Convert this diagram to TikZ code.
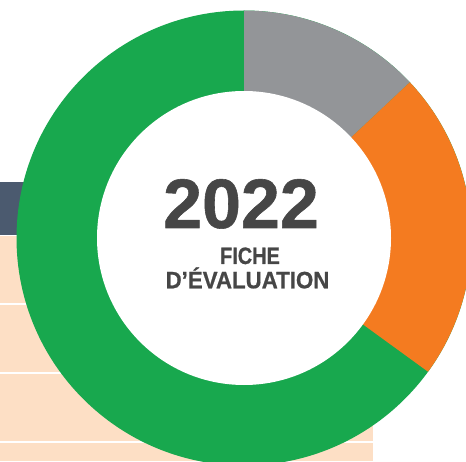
\documentclass[tikz,border=0pt]{standalone}
\usepackage{fontspec}
\setmainfont{Liberation Sans}[BoldFeatures={FakeBold=0.8}]
\definecolor{dgreen}{HTML}{18A84E}
\definecolor{dgrey}{HTML}{939598}
\definecolor{dorange}{HTML}{F47B20}
\definecolor{slate}{HTML}{4B5A6F}
\definecolor{peach}{HTML}{FDDFC5}
\definecolor{txtgrey}{HTML}{464646}
\tikzset{
  lbl/.style={inner sep=0pt, anchor=base, text=txtgrey, font=\bfseries},
  sep/.style={draw=white, line width=1.5pt}
}
\begin{document}
\begin{tikzpicture}[x=1pt,y=1pt]
\useasboundingbox (0,0) rectangle (466,461);
\fill[white] (0,0) rectangle (466,461);
\clip (0,0) rectangle (466,461);
% background table
\fill[slate] (0,226) rectangle (300,279);
\fill[peach] (0,0) rectangle (373,225);
\coordinate (l1a) at (0,157); \coordinate (l1b) at (373,157);
\coordinate (l2a) at (0,88);  \coordinate (l2b) at (373,88);
\coordinate (l3a) at (0,19);  \coordinate (l3b) at (373,19);
\draw[sep] (l1a) -- (l1b);
\draw[sep] (l2a) -- (l2b);
\draw[sep] (l3a) -- (l3b);
% donut
\coordinate (c) at (244,223);
\fill[dgreen] (c) circle[radius=227.5];
\fill[dgrey] (c) -- ++(90:227.5) arc[start angle=90,end angle=43.2,radius=227.5] -- cycle;
\fill[dorange] (c) -- ++(43.2:227.5) arc[start angle=43.2,end angle=-36,radius=227.5] -- cycle;
\fill[white] (c) circle[radius=147];
% text
\node[lbl, font=\bfseries\fontsize{70}{70}\selectfont] (year) at (241,233) {2022};
\node[lbl, font=\bfseries\fontsize{23.7}{24}\selectfont, xscale=0.84] (fiche) at (250,197) {FICHE};
\node[lbl, font=\bfseries\fontsize{23.7}{24}\selectfont, xscale=0.94] (eval) at (247.5,172.7) {D’ÉVALUATION};
\end{tikzpicture}
\end{document}
